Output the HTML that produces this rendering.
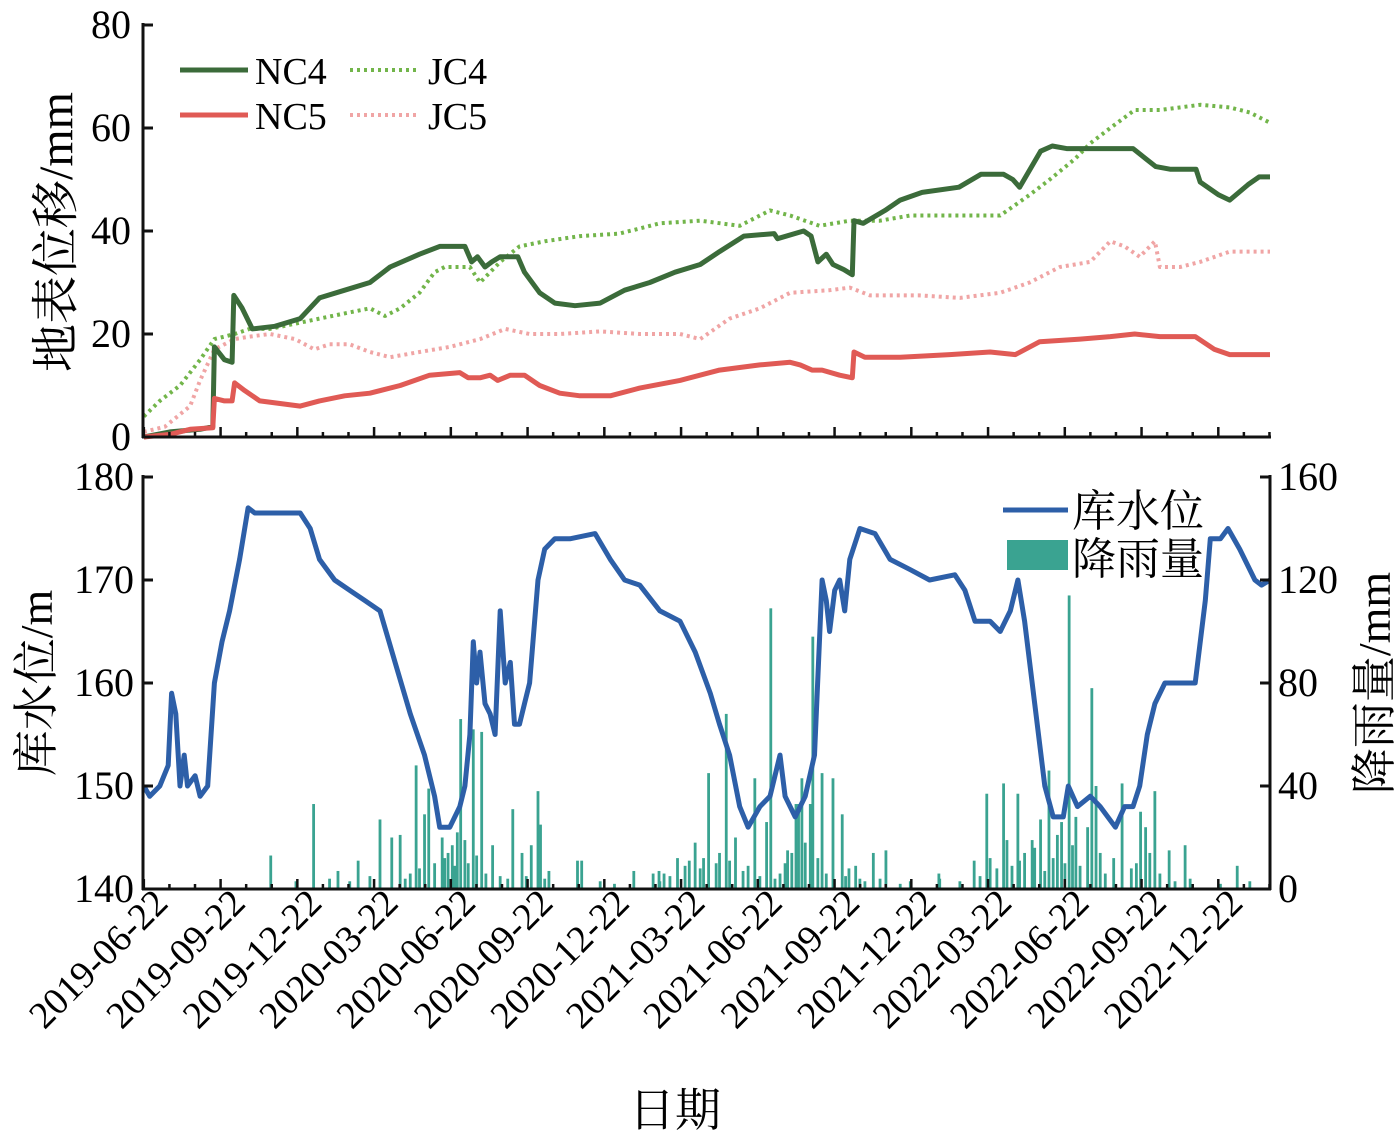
<!DOCTYPE html>
<html><head><meta charset="utf-8"><style>
html,body{margin:0;padding:0;background:#fff;}
svg{display:block;font-family:"Liberation Serif","Noto Serif CJK SC",serif;}
</style></head><body>
<svg id="chart" width="1398" height="1148" viewBox="0 0 1398 1148" xmlns="http://www.w3.org/2000/svg">
<g id="gtop"></g>
<g id="gbot"></g>
<text transform="translate(72,232) rotate(-90)" text-anchor="middle" font-size="48">地表位移/mm</text>
<text transform="translate(52,683) rotate(-90)" text-anchor="middle" font-size="46">库水位/m</text>
<text transform="translate(1390,683) rotate(-90)" text-anchor="middle" font-size="46">降雨量/mm</text>
<text x="675" y="1126" text-anchor="middle" font-size="46">日期</text>
<g>
 <line x1="180" y1="70" x2="248" y2="70" stroke="#3b6b3a" stroke-width="5"/>
 <text x="255" y="84" font-size="38">NC4</text>
 <line x1="350" y1="70" x2="420" y2="70" stroke="#72b54a" stroke-width="4" stroke-dasharray="3 4"/>
 <text x="428" y="84" font-size="38">JC4</text>
 <line x1="180" y1="115" x2="248" y2="115" stroke="#e05a55" stroke-width="5"/>
 <text x="255" y="129" font-size="38">NC5</text>
 <line x1="350" y1="115" x2="420" y2="115" stroke="#f0a5a5" stroke-width="4" stroke-dasharray="3 4"/>
 <text x="428" y="129" font-size="38">JC5</text>
</g>
<g>
 <line x1="1003" y1="510" x2="1068" y2="510" stroke="#2d5fa8" stroke-width="5"/>
 <text x="1072" y="526" font-size="44">库水位</text>
 <rect x="1007" y="540" width="61" height="30" fill="#3aa391"/>
 <text x="1072" y="574" font-size="44">降雨量</text>
</g>
</svg>
<script>
const NS='http://www.w3.org/2000/svg';
const nc4Days=[0,31,67,82,84,96,105,107,117,129,156,186,209,239,269,293,328,352,382,390,397,406,414,424,445,453,471,489,513,543,572,602,632,662,685,714,750,754,785,794,802,812,820,833,843,845,856,882,900,926,970,996,1023,1034,1042,1067,1081,1098,1125,1177,1204,1221,1252,1257,1279,1292,1314,1327,1340];
const nc4Vals=[0,1,1.5,2,17.5,15,14.5,27.5,25,21,21.5,23,27,28.5,30,33,35.5,37,37,34,35,33,34,35,35,32,28,26,25.5,26,28.5,30,32,33.5,36,39,39.5,38.5,40,39,34,35.5,33.5,32.5,31.5,42,41.5,44,46,47.5,48.5,51,51,50,48.5,55.5,56.5,56,56,56,52.5,52,52,49.5,47,46,49,50.5,50.5];
const nc5Days=[0,31,55,82,84,96,105,108,120,138,162,186,209,239,269,305,340,376,386,400,412,421,436,453,471,495,519,555,590,638,685,733,769,781,795,807,828,843,845,858,900,959,1007,1037,1066,1114,1150,1179,1209,1251,1274,1292,1340];
const nc5Vals=[0,0.5,1.5,1.8,7.5,7,7,10.5,9,7,6.5,6,7,8,8.5,10,12,12.5,11.5,11.5,12,11,12,12,10,8.5,8,8,9.5,11,13,14,14.5,14,13,13,12,11.5,16.5,15.5,15.5,16,16.5,16,18.5,19,19.5,20,19.5,19.5,17,16,16];
const jc4Days=[0,19,43,67,84,108,126,150,180,209,239,269,287,305,328,346,358,388,400,424,447,477,519,566,614,662,709,745,769,804,840,876,912,947,983,1019,1054,1078,1108,1126,1150,1179,1209,1257,1292,1316,1340];
const jc4Vals=[4,7,10,15,19,20,21,21,22,23,24,25,23.5,25,28,32,33,33,30,34,37,38,39,39.5,41.5,42,41,44,43,41,42,42,43,43,43,43,47,50,54,57,60,63.5,63.5,64.5,64,63,61];
const jc5Days=[0,25,55,67,84,108,126,150,180,203,221,245,269,293,328,364,400,430,459,495,543,590,638,662,697,733,769,816,840,864,923,971,1019,1054,1090,1126,1150,1167,1185,1203,1209,1233,1257,1292,1340];
const jc5Vals=[1,2,6,11,17,19,19.5,20,19,17,18,18,16.5,15.5,16.5,17.5,19,21,20,20,20.5,20,20,19,23,25,28,28.5,29,27.5,27.5,27,28,30,33,34,38,37,35,38,33,33,34,36,36];
const waterDays=[0,7,19,29,33,38,43,48,52,61,67,76,84,93,102,114,124,132,150,186,198,209,227,245,263,281,299,317,334,346,352,364,376,382,388,392,396,400,406,412,418,424,430,436,441,447,453,459,469,477,489,507,537,555,572,590,614,638,656,674,685,697,709,719,733,745,751,757,763,775,787,798,807,812,816,822,828,834,840,852,870,888,912,935,965,977,989,1007,1019,1031,1040,1048,1060,1072,1082,1094,1100,1111,1126,1138,1156,1167,1177,1185,1194,1203,1215,1239,1251,1263,1269,1281,1290,1304,1322,1330,1340];
const waterVals=[150,149,150,152,159,157,150,153,150,151,149,150,160,164,167,172,177,176.5,176.5,176.5,175,172,170,169,168,167,162,157,153,149,146,146,148,150,155,164,160,163,158,157,155,167,160,162,156,156,158,160,170,173,174,174,174.5,172,170,169.5,167,166,163,159,156,153,148,146,148,149,151,153,149,147,149,153,170,168,165,169,170,167,172,175,174.5,172,171,170,170.5,169,166,166,165,167,170,166,158,150,147,147,150,148,149,148,146,148,148,150,155,158,160,160,160,168,174,174,175,173,170,169.5,170];
const rainDays=[151,202,231,255,281,295,305,324,334,339,355,367,377,382,392,402,415,439,450,461,469,472,482,516,521,583,606,613,619,635,644,649,656,672,681,693,704,713,719,727,741,746,776,779,783,793,796,807,820,831,839,847,868,883,946,988,1003,1023,1027,1040,1057,1060,1067,1077,1092,1101,1109,1123,1128,1133,1164,1186,1192,1203,1220,1239,1301,1340,
181,221,245,269,311,317,328,346,358,362,370,373,386,396,407,424,433,455,477,543,560,614,626,662,666,685,697,733,751,757,763,766,771,787,802,812,835,852,858,876,900,912,947,971,995,1007,1015,1033,1042,1048,1072,1082,1087,1096,1105,1114,1138,1144,1154,1175,1181,1197,1209,1227,1245,1281,1316];
const rainVals=[13,33,7,11,27,20,21,48,29,39,20,17,66,19,62,61,17,31,14,17,38,25,7,11,11,7,6,7,6,12,9,11,18,45,10,68,20,7,9,43,26,109,33,33,43,33,98,45,43,29,8,9,14,15,6,11,37,41,19,37,19,16,27,46,26,114,28,24,78,40,41,30,24,38,15,17,9,8,
3,4,3,5,4,6,8,10,12,14,9,22,10,13,6,5,4,5,4,3,2,3,5,8,12,14,11,5,4,6,10,15,14,18,12,6,5,4,3,4,2,3,4,3,5,12,8,9,11,14,7,12,21,10,17,9,14,6,12,8,10,14,6,3,4,2,3];
const tickDates=['2019-06-22','2019-09-22','2019-12-22','2020-03-22','2020-06-22','2020-09-22','2020-12-22','2021-03-22','2021-06-22','2021-09-22','2021-12-22','2022-03-22','2022-06-22','2022-09-22','2022-12-22'];
const dispTicks=[0,20,40,60,80];
const waterTicks=[140,150,160,170,180];
const rainTicks=[0,40,80,120,160];

const X0=143,X1=1270;
const xs=d=>X0+(d+1)*(X1-X0)/1341;
const yTop=v=>437-v*(412/80);
const yWat=v=>889-(v-140)*(412/40);
const yRain=v=>889-v*(412/160);
const dayOf=s=>Math.round((Date.parse(s)-Date.parse('2019-06-22'))/864e5);
function mk(parent,tag,attrs){const e=document.createElementNS(NS,tag);for(const k in attrs)e.setAttribute(k,attrs[k]);parent.appendChild(e);return e;}
const gTop=document.getElementById('gtop'), gBot=document.getElementById('gbot');

rainDays.forEach((d,i)=>{
  const v=rainVals[i]; if(v===undefined) return;
  const x=xs(d), y=yRain(v);
  const r=mk(gBot,'rect',{x:x-1.4,y:y,width:2.8,height:889-y,fill:'#3aa391'});
  
  
});
function line(parent,days,vals,yf,attrs,name){
  const pts=[];
  days.forEach((d,i)=>{ if(vals[i]!==undefined) pts.push(xs(d).toFixed(1)+','+yf(vals[i]).toFixed(1)); });
  const e=mk(parent,'path',Object.assign({d:'M'+pts.join('L'),fill:'none','stroke-linejoin':'round'},attrs));
  
  
}
line(gBot,waterDays,waterVals,yWat,{stroke:'#2d5fa8','stroke-width':5},'water-level-line');
line(gTop,jc4Days,jc4Vals,yTop,{stroke:'#72b54a','stroke-width':4,'stroke-dasharray':'3 4'},'jc4-line');
line(gTop,jc5Days,jc5Vals,yTop,{stroke:'#f0a5a5','stroke-width':4,'stroke-dasharray':'3 4'},'jc5-line');
line(gTop,nc4Days,nc4Vals,yTop,{stroke:'#3b6b3a','stroke-width':5},'nc4-line');
line(gTop,nc5Days,nc5Vals,yTop,{stroke:'#e05a55','stroke-width':5},'nc5-line');

function ax(p,a,n){const e=mk(p,'line',Object.assign({stroke:'#111','stroke-width':3},a));}
ax(gTop,{x1:X0,y1:23,x2:X0,y2:438},'top-y-axis');
ax(gTop,{x1:X0-1,y1:437,x2:X1+1,y2:437},'top-x-axis');
ax(gBot,{x1:X0,y1:475,x2:X0,y2:890},'bottom-left-axis');
ax(gBot,{x1:X1,y1:475,x2:X1,y2:890},'bottom-right-axis');
ax(gBot,{x1:X0-1,y1:889,x2:X1+1,y2:889},'bottom-x-axis');
const td=tickDates.map(dayOf);
for(let d=0;d<=1340;d+=30.44){
  const x=xs(d); const major=td.some(t=>Math.abs(t-d)<5);
  const h=major?10:5;
  [437,889].forEach(yb=>{
    const e=mk(yb<500?gTop:gBot,'line',{x1:x,y1:yb,x2:x,y2:yb-h,stroke:'#111','stroke-width':2.5});
    
    
  });
}
tickDates.forEach((s,i)=>{
  const x=xs(td[i])+26;
  const t=mk(gBot,'text',{transform:'translate('+x+',905) rotate(-45)','text-anchor':'end','font-size':38});
  t.textContent=s;
  
  
});
dispTicks.forEach(v=>{
  const y=yTop(v);
  const e=mk(gTop,'line',{x1:X0,y1:y,x2:X0+10,y2:y,stroke:'#111','stroke-width':3});
  
  
  const t=mk(gTop,'text',{x:131,y:y+13,'text-anchor':'end','font-size':40});t.textContent=v;
  
  
});
waterTicks.forEach(v=>{
  const y=yWat(v);
  const e=mk(gBot,'line',{x1:X0,y1:y,x2:X0+10,y2:y,stroke:'#111','stroke-width':3});
  
  
  const t=mk(gBot,'text',{x:134,y:y+13,'text-anchor':'end','font-size':40});t.textContent=v;
  
  
});
rainTicks.forEach(v=>{
  const y=yRain(v);
  const e=mk(gBot,'line',{x1:X1-10,y1:y,x2:X1,y2:y,stroke:'#111','stroke-width':3});
  
  
  const t=mk(gBot,'text',{x:1278,y:y+13,'text-anchor':'start','font-size':40});t.textContent=v;
  
  
});
</script>
</body></html>
